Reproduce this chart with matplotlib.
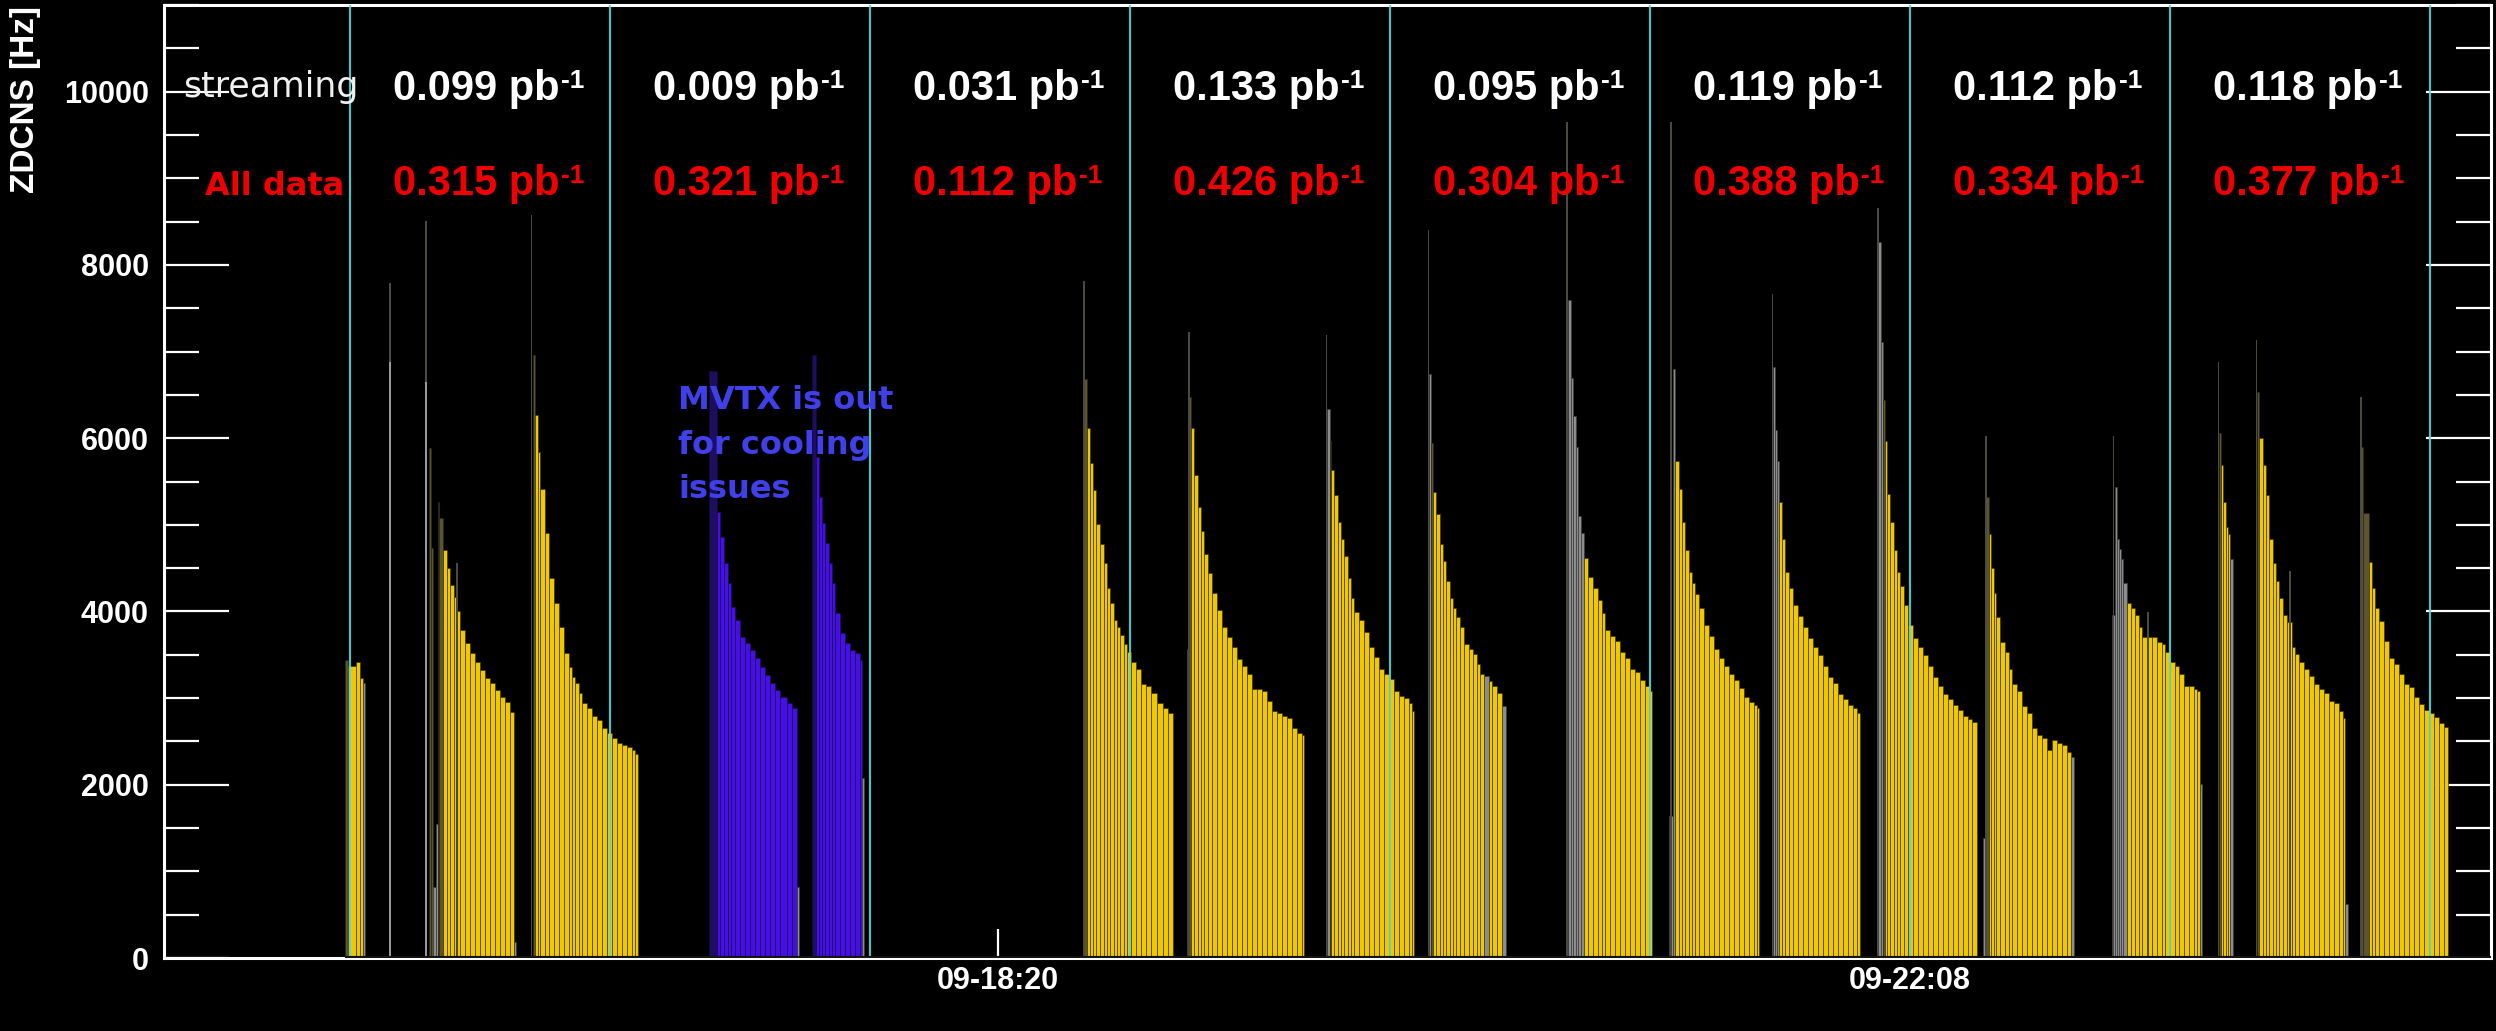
import matplotlib
matplotlib.use("Agg")
import matplotlib.pyplot as plt
from matplotlib.ticker import MultipleLocator

# x axis: minutes since 14:50 (day 09); y: ZDC North+South rate [Hz]
fillA_t = [46.75, 47.5, 49.5, 50.5, 51.25, 51.75]
fillA_h = [3440, 3370, 3420, 3230, 3170]
fillA_c = "dyyyg"

fillB_t = [67.625, 68.25, 68.75, 69.375, 69.875, 70.25, 71.25, 72.125, 73.0, 73.875, 74.75, 75.5,
           76.75, 78.0, 79.25, 80.5, 81.75, 83.0, 84.25, 85.5, 86.75, 88.0, 89.0, 89.5]
fillB_h = [5890, 4730, 820, 1550, 5266, 5077, 4708, 4500, 4304, 4166, 4000, 3785, 3635, 3520,
           3420, 3323, 3231, 3173, 3093, 3015, 2950, 2840, 190]
fillB_c = "ddggdd" + "y" * 16 + "g"

fillC_t = [93.625, 94.25, 94.875, 95.5, 96.75, 97.625, 98.875, 100.125, 101.375, 102.625, 103.5,
           104.25, 105.125, 106.0, 107.25, 108.5, 109.75, 111.0, 112.25, 113.5, 114.75, 116.0,
           117.25, 118.5, 119.25, 119.875]
fillC_h = [6958, 6266, 5843, 5419, 4904, 4385, 4096, 3823, 3519, 3362, 3246, 3173, 3058, 2940,
           2884, 2799, 2742, 2657, 2600, 2544, 2487, 2459, 2431, 2402, 2357]
fillC_c = "d" + "y" * 24

fillD_t = [137.75, 139.625, 140.5, 141.375, 142.375, 143.25, 144.25, 145.5, 146.75, 148.0, 149.25,
           150.5, 151.75, 153.0, 154.25, 155.5, 157.25, 158.5, 159.75, 160.25]
fillD_h = [6770, 5151, 4862, 4558, 4323, 4054, 3900, 3708, 3631, 3554, 3458, 3362, 3266, 3170,
           3093, 3015, 2940, 2884, 816]
fillD_c = "B" + "b" * 17 + "g"

fillE_t = [163.5, 164.375, 165.125, 165.875, 166.75, 167.625, 168.375, 169.25, 170.5, 171.75,
           173.0, 174.25, 175.5, 176.0, 176.5]
fillE_h = [6962, 5785, 5323, 5016, 4785, 4554, 4323, 3977, 3747, 3631, 3554, 3516, 3439, 2074]
fillE_c = "B" + "b" * 12 + "g"

fillF_t = [231.5, 232.125, 233.0, 233.625, 234.5, 235.375, 236.375, 237.125, 238.0, 238.875,
           239.625, 240.5, 241.375, 242.125, 243.25, 244.5, 245.75, 247.0, 248.25, 249.75,
           251.25, 252.5, 253.75]
fillF_h = [6679, 6113, 5716, 5405, 5008, 4782, 4555, 4272, 4102, 3903, 3818, 3733, 3620, 3535,
           3422, 3337, 3167, 3139, 3054, 2940, 2884, 2827]
fillF_c = "d" + "y" * 21

fillG_t = [257.125, 257.75, 258.125, 259.0, 259.875, 260.625, 261.5, 262.5, 263.375, 264.625,
           265.875, 267.125, 268.375, 269.625, 270.875, 272.125, 273.375, 274.625, 275.875,
           277.125, 278.375, 279.625, 280.875, 282.125, 283.375, 284.625, 285.875, 286.5]
fillG_h = [3564, 6481, 6113, 5575, 5206, 4923, 4668, 4442, 4215, 4017, 3818, 3705, 3592, 3450,
           3365, 3280, 3110, 3110, 3082, 2968, 2855, 2827, 2799, 2771, 2657, 2600, 2572]
fillG_c = "gd" + "y" * 25

fillH_t = [292.125, 293.0, 293.25, 294.0, 294.875, 295.625, 296.5, 297.375, 298.125, 299.0,
           300.125, 301.375, 302.625, 303.875, 305.125, 306.375, 307.625, 308.875, 310.125,
           311.375, 312.625, 313.375, 314.0]
fillH_h = [6339, 5971, 5631, 5348, 5037, 4838, 4640, 4385, 4158, 3988, 3903, 3762, 3592, 3478,
           3337, 3280, 3224, 3082, 3025, 2997, 2940, 2855]
fillH_c = "gd" + "y" * 20

fillI_t = [317.625, 318.25, 318.625, 319.5, 320.375, 321.125, 322.0, 322.875, 323.625, 324.5,
           325.375, 326.375, 327.625, 328.625, 329.625, 330.5, 331.375, 332.625, 333.375,
           334.625, 335.875, 337.0]
fillI_h = [6736, 5943, 5376, 5121, 4782, 4583, 4357, 4158, 4045, 3932, 3818, 3620, 3564, 3507,
           3393, 3280, 3252, 3195, 3139, 3054, 2912]
fillI_c = "gd" + "y" * 14 + "g" + "yyy" + "g"

fillJ_t = [352.5, 353.125, 353.75, 354.375, 354.875, 355.625, 356.375, 357.5, 358.75, 360.0,
           360.875, 361.75, 363.0, 364.25, 365.5, 366.75, 368.0, 369.25, 370.5, 371.75,
           372.625, 373.5]
fillJ_h = [7596, 6699, 6251, 5898, 5098, 4906, 4618, 4394, 4266, 4137, 3977, 3785, 3721, 3657,
           3529, 3465, 3337, 3305, 3209, 3145, 3081]
fillJ_c = "g" * 6 + "y" * 15

fillK_t = [377.75, 378.625, 379.25, 380.125, 380.875, 381.75, 382.625, 383.375, 384.25, 385.125,
           386.375, 387.625, 388.875, 390.125, 391.375, 392.625, 393.875, 395.125, 396.375,
           397.625, 398.875, 399.625, 400.25]
fillK_h = [1640, 6795, 5738, 5418, 5034, 4714, 4458, 4330, 4202, 4041, 3849, 3721, 3561, 3465,
           3369, 3273, 3209, 3113, 3017, 2953, 2921, 2889]
fillK_c = "gg" + "y" * 20

fillL_t = [403.75, 404.25, 404.625, 405.25, 405.875, 406.75, 407.625, 408.625, 409.875, 411.125,
           412.375, 413.625, 414.875, 416.125, 417.375, 418.625, 419.875, 421.125, 422.375,
           423.625, 424.75, 425.5]
fillL_h = [6827, 6091, 5738, 5258, 4842, 4458, 4266, 4073, 3945, 3817, 3689, 3593, 3497, 3369,
           3241, 3177, 3049, 2985, 2921, 2889, 2825]
fillL_c = "ggg" + "y" * 18

fillM_t = [430.0, 430.625, 431.125, 431.625, 432.25, 433.0, 433.875, 434.625, 435.5, 436.375,
           437.375, 438.625, 439.875, 441.125, 442.375, 443.625, 444.875, 446.125, 447.375,
           448.625, 449.875, 451.125, 452.375, 453.5, 454.75]
fillM_h = [8268, 7115, 6443, 5963, 5354, 5034, 4714, 4458, 4298, 4073, 3849, 3689, 3593, 3497,
           3369, 3241, 3145, 3049, 2985, 2921, 2857, 2793, 2760, 2720]
fillM_c = "ggd" + "y" * 21

fillN_t = [456.25, 457.0, 457.625, 458.125, 458.875, 459.5, 460.5, 461.75, 462.625, 463.375,
           464.625, 465.875, 467.125, 468.375, 469.625, 470.875, 472.125, 473.375, 474.625,
           475.875, 477.125, 478.25, 478.875]
fillN_h = [1382, 5320, 4895, 4498, 4215, 3932, 3648, 3535, 3337, 3167, 3082, 2912, 2827, 2657,
           2572, 2544, 2402, 2516, 2487, 2459, 2374, 2317]
fillN_c = "gd" + "y" * 19 + "g"

fillO_t = [488.375, 489.125, 489.625, 490.125, 490.75, 491.25, 492.125, 493.125, 494.25, 495.125,
           495.875, 497.125, 498.375, 499.625, 500.875, 501.75, 503.0, 504.25, 505.125, 506.375,
           507.625, 508.875, 509.625, 510.375, 511.0]
fillO_h = [3960, 5433, 4838, 4725, 4611, 4328, 4102, 4045, 3960, 3818, 3705, 3705, 3705, 3648,
           3620, 3535, 3422, 3365, 3280, 3139, 3139, 3110, 3082, 2006]
fillO_c = "g" * 6 + "y" * 17 + "g"

fillP_t = [515.125, 515.625, 516.25, 516.875, 517.5, 518.0, 518.625]
fillP_h = [6056, 5688, 5263, 4980, 4895, 4611]
fillP_c = "dyyyyg"

fillQ_t = [524.625, 525.25, 526.125, 527.0, 527.75, 528.625, 529.5, 530.25, 531.125, 532.125,
           533.375, 534.25, 535.125, 536.375, 537.625, 538.875, 540.125, 541.375, 542.625,
           543.875, 545.125, 546.125, 546.75, 547.375]
fillQ_h = [6538, 6000, 5688, 5348, 4838, 4555, 4357, 4158, 3960, 3875, 3592, 3507, 3422, 3337,
           3252, 3167, 3110, 3054, 2968, 2940, 2855, 2771, 618]
fillQ_c = "d" + "y" * 21 + "g"

fillR_t = [550.75, 551.25, 552.625, 553.375, 554.25, 555.25, 556.5, 557.75, 559.0, 560.25,
           561.5, 562.75, 564.0, 565.25, 566.5, 567.75, 569.0, 570.25, 571.375, 572.5]
fillR_h = [5897, 5137, 4569, 4265, 4037, 3885, 3658, 3468, 3393, 3277, 3164, 3126, 3012, 2937,
           2861, 2824, 2786, 2710, 2672]
fillR_c = "dd" + "y" * 17

# short runs at the start of fills (thin spikes)
spike_t = [58.0, 67.0, 74.75, 93.375, 231.5, 257.75, 292.125, 317.625, 352.25, 378.25, 403.625,
           430.0, 457.0, 488.875, 497.5, 515.125, 524.625, 533.0, 550.75]
spike_top = [7795, 8503, 4558, 8577, 7812, 7229, 7189, 8407, 9645, 9645, 7660, 8652, 6028, 6028,
             3990, 6878, 7132, 4470, 6480]
spike_mid = [6877, 6651, 0, 0, 0, 0, 0, 0, 0, 0, 0, 0, 0, 0, 0, 0, 0, 0, 0]

# period markers (cyan lines)
marker_t = [48, 113, 178, 243, 308, 373, 438, 503, 568]

streaming_lumi = ["0.099", "0.009", "0.031", "0.133", "0.095", "0.119", "0.112", "0.118"]
alldata_lumi = ["0.315", "0.321", "0.112", "0.426", "0.304", "0.388", "0.334", "0.377"]

xtick_pos = [210, 438]
xtick_lab = ["09-18:20", "09-22:08"]

note_lines = ["MVTX is out", "for cooling", "issues"]

# ---------------------------------------------------------------------------
COL = {"y": "#f0c800", "g": "#8c8c8c", "d": "#5a5430", "b": "#4610e2", "B": "#1e0e60"}
EDGE = {"y": "#3a3000", "g": "#3a3a3a", "d": "#2a2810", "b": "#1a0860", "B": "#120838"}

fig = plt.figure(figsize=(24.96, 10.31), dpi=100, facecolor="black")
ax = fig.add_axes([164 / 2496, 1 - 958 / 1031, (2491 - 164) / 2496, (958 - 5) / 1031])
ax.set_facecolor("black")

fills = [(fillA_t, fillA_h, fillA_c), (fillB_t, fillB_h, fillB_c), (fillC_t, fillC_h, fillC_c),
         (fillD_t, fillD_h, fillD_c), (fillE_t, fillE_h, fillE_c), (fillF_t, fillF_h, fillF_c),
         (fillG_t, fillG_h, fillG_c), (fillH_t, fillH_h, fillH_c), (fillI_t, fillI_h, fillI_c),
         (fillJ_t, fillJ_h, fillJ_c), (fillK_t, fillK_h, fillK_c), (fillL_t, fillL_h, fillL_c),
         (fillM_t, fillM_h, fillM_c), (fillN_t, fillN_h, fillN_c), (fillO_t, fillO_h, fillO_c),
         (fillP_t, fillP_h, fillP_c), (fillQ_t, fillQ_h, fillQ_c), (fillR_t, fillR_h, fillR_c)]

for t, h, c in fills:
    lefts = t[:-1]
    widths = [t[i + 1] - t[i] for i in range(len(h))]
    ax.bar(lefts, h, width=widths, align="edge",
           color=[COL[k] for k in c], edgecolor=[EDGE[k] for k in c],
           linewidth=0.45, zorder=2)

ax.bar(spike_t, spike_top, width=0.35, align="center", color="#4a4a40", linewidth=0, zorder=2.5)
ax.bar(spike_t, spike_mid, width=0.35, align="center", color="#9a9a9a", linewidth=0, zorder=2.6)

for m in marker_t:
    ax.axvline(m, color="#60d4d4", lw=1.6, alpha=0.9, zorder=3)

# histogram baseline over bottom axis
ax.plot([fillA_t[0], 583.25], [0, 0], color="#141414", lw=3, zorder=4, solid_capstyle="butt")

ax.set_xlim(1.5, 583.25)
ax.set_ylim(0, 11000)

for s in ax.spines.values():
    s.set_color("white")
    s.set_linewidth(2.2)
    s.set_zorder(1)

ax.yaxis.set_major_locator(MultipleLocator(2000))
ax.yaxis.set_minor_locator(MultipleLocator(500))
ax.tick_params(axis="y", which="major", direction="in", length=47, width=1.6, colors="white",
               left=True, right=True, labelsize=22, pad=11)
ax.tick_params(axis="y", which="minor", direction="in", length=25, width=1.6, colors="white",
               left=True, right=True)
ax.set_xticks(xtick_pos)
ax.set_xticklabels(xtick_lab)
ax.tick_params(axis="x", which="major", direction="in", length=21, width=1.6, colors="white",
               top=False, labelsize=22, pad=6)
ax.tick_params(axis="x", which="minor", bottom=False, top=False)
for lbl in ax.get_yticklabels() + ax.get_xticklabels():
    lbl.set_fontfamily(["Liberation Sans", "DejaVu Sans"])
    lbl.set_fontweight("bold")
    lbl.set_color("white")

fig.text(26 / 2496, 1 - 6 / 1031, "ZDCNS [Hz]", rotation=90, ha="center", va="top",
         color="white", fontsize=24, fontweight="bold", family=["Liberation Sans", "DejaVu Sans"])

# luminosity annotations
ax.text(6.25, 9940, "streaming", color="#f0f0f0", fontsize=25, family="DejaVu Sans",
        ha="left", va="baseline", zorder=6)
ax.text(11.75, 8810, "All data", color="#f00000", fontsize=23, fontweight="bold",
        family="DejaVu Sans", ha="left", va="baseline", zorder=6)


def lumi_label(x, y, value, color):
    main = ax.text(x, y, value + " pb", color=color, fontsize=30, fontweight="bold",
                   family="Liberation Sans", ha="left", va="baseline", zorder=6)
    ax.annotate("-1", xy=(1, 1), xycoords=main, xytext=(1, 0), textcoords="offset points",
                ha="left", va="top", color=color, fontsize=19, fontweight="bold",
                family="Liberation Sans", zorder=6)


for i in range(len(streaming_lumi)):
    x0 = marker_t[i] + 10.75
    lumi_label(x0, 9900, streaming_lumi[i], "white")
    lumi_label(x0, 8805, alldata_lumi[i], "#f00000")

for k, line in enumerate(note_lines):
    ax.text(130, 6335 - 515 * k, line, color="#4040ea", fontsize=23, fontweight="bold",
            family="DejaVu Sans", ha="left", va="baseline", zorder=10, clip_on=False)

fig.savefig("out.png", dpi=100, facecolor="black")
